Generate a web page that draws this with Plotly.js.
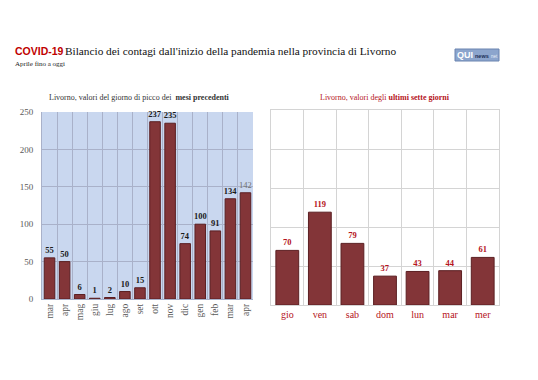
<!DOCTYPE html>
<html>
<head>
<meta charset="utf-8">
<script src="https://cdn.plot.ly/plotly-3.0.1.min.js"></script>
<style>html,body{margin:0;padding:0;background:#fff;}#chart{width:538px;height:380px;}</style>
</head>
<body>
<div id="chart"></div>
<script>
// ---- data ----
const monthLabels = ["mar","apr","mag","giu","lug","ago","set","ott","nov","dic","gen","feb","mar","apr"];
const monthPeaks  = [55, 50, 6, 1, 2, 10, 15, 237, 235, 74, 100, 91, 134, 142];
const dayLabels   = ["gio","ven","sab","dom","lun","mar","mer"];
const dayValues   = [70, 119, 79, 37, 43, 44, 61];

const serif = "Liberation Serif, DejaVu Serif, serif";
const sans = "Liberation Sans, Arial, sans-serif";
const barFill = "#833538";
const barLine = "#5b1f22";
const red = "#b5141c";

const monthPos = monthLabels.map((_, i) => i);
const lastIdx = monthPeaks.length - 1;

const traceLeft = {
  type: "bar",
  x: monthPos,
  y: monthPeaks,
  xaxis: "x", yaxis: "y",
  marker: {color: barFill, line: {color: barLine, width: 1}},
  text: monthPeaks.map(String),
  textposition: "outside",
  constraintext: "none",
  cliponaxis: false,
  textfont: {
    family: serif, size: 8.5,
    color: monthPeaks.map((_, i) => i === lastIdx ? "#6f6f6f" : "#1a1a1a"),
    weight: monthPeaks.map((_, i) => i === lastIdx ? 400 : 700)
  },
  hoverinfo: "skip"
};

const traceRight = {
  type: "bar",
  x: dayLabels,
  y: dayValues,
  xaxis: "x2", yaxis: "y2",
  marker: {color: barFill, line: {color: barLine, width: 1}},
  text: dayValues.map(String),
  textposition: "outside",
  constraintext: "none",
  cliponaxis: false,
  textfont: {family: serif, size: 8.5, color: red, weight: 700},
  hoverinfo: "skip"
};

const W = 538, H = 380;
const px = v => v / W;
const py = v => 1 - v / H;

const layout = {
  width: W, height: H,
  margin: {l: 0, r: 0, t: 0, b: 0},
  paper_bgcolor: "#ffffff",
  plot_bgcolor: "rgba(0,0,0,0)",
  showlegend: false,
  bargap: 0.3,
  font: {family: serif, color: "#595959"},
  xaxis: {
    domain: [px(42), px(253)],
    anchor: "y",
    range: [-0.5, monthLabels.length - 0.5],
    tickmode: "array",
    tickvals: monthPos,
    ticktext: monthLabels,
    tickangle: -90,
    tickfont: {family: serif, size: 9.5, color: "#595959"},
    showgrid: false,
    minor: {tick0: -0.5, dtick: 1, showgrid: true, gridcolor: "#a9b1c9", gridwidth: 1, ticks: ""},
    showline: true, linecolor: "#a9b1c9", linewidth: 1,
    ticks: "", zeroline: false, fixedrange: true
  },
  yaxis: {
    domain: [py(299), py(112)],
    anchor: "x",
    range: [0, 250],
    dtick: 50,
    tickfont: {family: serif, size: 9, color: "#595959"},
    gridcolor: "#a9b1c9", gridwidth: 1,
    showline: true, linecolor: "#a9b1c9", linewidth: 1,
    ticks: "", ticklabelstandoff: 6, zeroline: false, fixedrange: true
  },
  xaxis2: {
    domain: [px(271), px(499)],
    anchor: "y2",
    type: "category",
    tickson: "boundaries",
    tickfont: {family: serif, size: 10, color: red},
    showgrid: true, gridcolor: "#d4d4d4", gridwidth: 1,
    showline: true, mirror: true, linecolor: "#d4d4d4", linewidth: 1,
    ticks: "", ticklen: 0, zeroline: false, fixedrange: true
  },
  yaxis2: {
    domain: [py(305), py(110)],
    anchor: "x2",
    range: [0, 250],
    dtick: 50,
    showticklabels: false,
    gridcolor: "#d4d4d4", gridwidth: 1,
    showline: true, mirror: true, linecolor: "#d4d4d4", linewidth: 1,
    ticks: "", zeroline: false, fixedrange: true
  },
  shapes: [
    {type: "rect", xref: "x domain", yref: "y domain", x0: 0, x1: 1, y0: 0, y1: 1,
     fillcolor: "#c9d7ef", line: {width: 0}, layer: "below"},
    {type: "rect", xref: "paper", yref: "paper", x0: px(455), x1: px(499), y0: py(61), y1: py(49),
     fillcolor: "#8ca5cd", line: {color: "#6a84b0", width: 1}, layer: "below"}
  ],
  annotations: [
    {xref: "paper", yref: "paper", x: px(13), y: py(51), xanchor: "left", yanchor: "middle",
     text: "<b>COVID-19</b>", showarrow: false,
     font: {family: sans, size: 10.5, color: "#c00000"}},
    {xref: "paper", yref: "paper", x: px(63), y: py(51), xanchor: "left", yanchor: "middle",
     text: "Bilancio dei contagi dall'inizio della pandemia nella provincia di Livorno", showarrow: false,
     font: {family: serif, size: 11.3, color: "#111111"}},
    {xref: "paper", yref: "paper", x: px(13), y: py(64), xanchor: "left", yanchor: "middle",
     text: "Aprile fino a oggi", showarrow: false,
     font: {family: serif, size: 7, color: "#222222"}},
    {xref: "paper", yref: "paper", x: px(139), y: py(97), xanchor: "center", yanchor: "middle",
     text: "Livorno, valori del giorno di picco dei  <b>mesi precedenti</b>", showarrow: false,
     font: {family: serif, size: 8, color: "#333333"}},
    {xref: "paper", yref: "paper", x: px(385), y: py(97), xanchor: "center", yanchor: "middle",
     text: "Livorno, valori degli <b>ultimi sette giorni</b>", showarrow: false,
     font: {family: serif, size: 8, color: red}},
    {xref: "paper", yref: "paper", x: px(456), y: py(55), xanchor: "left", yanchor: "middle",
     text: "<b>QUI</b>", showarrow: false, borderpad: 0,
     font: {family: sans, size: 9, color: "#ffffff"}},
    {xref: "paper", yref: "paper", x: px(474), y: py(56), xanchor: "left", yanchor: "middle",
     text: "<b>news</b>", showarrow: false, borderpad: 0,
     font: {family: sans, size: 5.5, color: "#1d2d57"}},
    {xref: "paper", yref: "paper", x: px(490), y: py(56), xanchor: "left", yanchor: "middle",
     text: "net", showarrow: false, borderpad: 0,
     font: {family: sans, size: 4.5, color: "#e8eef8"}}
  ]
};

Plotly.newPlot("chart", [traceLeft, traceRight], layout, {displayModeBar: false, staticPlot: true});
</script>
</body>
</html>
